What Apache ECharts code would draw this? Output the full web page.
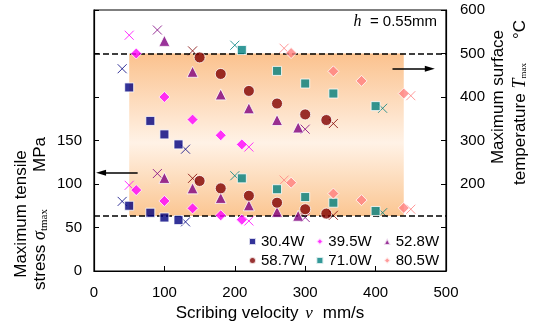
<!DOCTYPE html>
<html><head><meta charset="utf-8">
<script src="https://cdn.jsdelivr.net/npm/echarts@6/dist/echarts.min.js"></script>
<style>html,body{margin:0;padding:0;background:#fff}#c{width:534px;height:329px}</style>
</head><body><div id="c"></div>
<script>
// ---- data ----
const powers = ['30.4W','39.5W','52.8W','58.7W','71.0W','80.5W'];
const leftTickLabels = [0, 50, 100, 150];
const rightTickLabels = [200, 300, 400, 500, 600];

// temperature (right axis)  [velocity, T]
const temp30 = [[50,422],[80,345],[100,314],[120,291]];
const temp39 = [[60,500],[100,400],[140,348],[180,312],[210,291]];
const temp52 = [[100,529],[140,458],[180,406],[220,374],[260,347],[290,330]];
const temp58 = [[150,491],[180,453],[220,414],[260,385],[300,360],[330,347]];
const temp71 = [[210,508],[260,460],[300,431],[340,408],[400,379]];
const temp80 = [[280,501],[340,459],[380,437],[440,408]];
// crossed points (temperature)
const tempX30 = [[40,465],[130,280]];
const tempX39 = [[50,542],[220,285]];
const tempX52 = [[90,554],[300,326]];
const tempX58 = [[140,506],[340,339]];
const tempX71 = [[200,519],[410,374]];
const tempX80 = [[270,512],[450,403]];

// stress (left axis)  [velocity, sigma]
const stress30 = [[50,75],[80,67],[100,61.5],[120,58.5]];
const stress39 = [[60,93],[100,80.5],[140,72],[180,64],[210,59]];
const stress52 = [[100,107],[140,95],[180,84],[220,75.5],[260,68],[290,63.5]];
const stress58 = [[150,103.5],[180,95],[220,86.5],[260,78.5],[300,71],[330,66]];
const stress71 = [[210,106.5],[260,94],[300,85],[340,78.5],[400,69]];
const stress80 = [[280,101.5],[340,89],[380,81.5],[440,72.5]];
// crossed points (stress)
const stressX30 = [[40,80],[130,56.5]];
const stressX39 = [[50,98.5],[220,57.5]];
const stressX52 = [[90,112],[300,61.5]];
const stressX58 = [[140,106.5],[340,64]];
const stressX71 = [[200,109.5],[410,67]];
const stressX80 = [[270,104.5],[450,71]];

// window limits
const sigmaLow = 63.3;      // MPa (lower dashed line)
const tempHigh = 500;       // °C  (upper dashed line)
const vLow = 50, vHigh = 440;
// arrows
const leftArrow = {y: 113, from: 62, to: 10};
const rightArrow = {y: 465, from: 424, to: 477};

// ---- chart ----
const colors = ['#000080','#ff00ff','#800080','#800000','#008080','#ff8080'];
const symbols = ['rect','diamond','triangle','circle','rect','diamond'];
const sizes = [9,11,11,11,9,11];
const temps = [temp30,temp39,temp52,temp58,temp71,temp80];
const tempsX = [tempX30,tempX39,tempX52,tempX58,tempX71,tempX80];
const stresses = [stress30,stress39,stress52,stress58,stress71,stress80];
const stressesX = [stressX30,stressX39,stressX52,stressX58,stressX71,stressX80];
const cross = 'path://M0,0L10,10M10,0L0,10';
const FONT = 'Liberation Sans, Arial, sans-serif';
const SERIF = 'Liberation Serif, Times New Roman, serif';

const series = [];
// shading + dashed lines + arrows helper
series.push({
  type: 'scatter', name: '_area', yAxisIndex: 0, data: [], z: 1, silent: true,
  markArea: {
    silent: true,
    itemStyle: {
      color: {type:'linear', x:0, y:0, x2:0, y2:1, colorStops:[
        {offset:0, color:'#fbc28e'},{offset:0.55, color:'#fff2e6'},{offset:1, color:'#fbc692'}]}
    },
    data: [[{xAxis: vLow, yAxis: sigmaLow}, {xAxis: vHigh, yAxis: tempHigh/2}]]
  }
});
series.push({
  type: 'scatter', name: '_lines', yAxisIndex: 0, data: [], z: 2, silent: true,
  markLine: {
    silent: true, symbol: 'none', label: {show: false},
    lineStyle: {color:'#000', type:[6,3], width:1.5},
    data: [
      {yAxis: sigmaLow},
      {yAxis: tempHigh/2},
      [{coord:[leftArrow.from, leftArrow.y], symbol:'none', lineStyle:{type:'solid', width:1.5}},
       {coord:[leftArrow.to, leftArrow.y], symbol:'triangle', symbolSize:[6,10]}],
      [{coord:[rightArrow.from, rightArrow.y/2], symbol:'none', lineStyle:{type:'solid', width:1.5}},
       {coord:[rightArrow.to, rightArrow.y/2], symbol:'triangle', symbolSize:[6,10]}]
    ]
  }
});
powers.forEach((p, i) => {
  const base = {type:'scatter', name: p, symbol: symbols[i], symbolSize: sizes[i], z: 5,
    itemStyle: {color: colors[i], borderColor:'#fff', borderWidth: 1}};
  series.push(Object.assign({}, base, {yAxisIndex: 1, data: temps[i]}));
  series.push(Object.assign({}, base, {yAxisIndex: 0, data: stresses[i]}));
  const xb = {type:'scatter', name: p + ' ×', symbol: cross, symbolSize: 9, z: 4,
    itemStyle: {color: 'rgba(0,0,0,0)', borderColor: colors[i], borderWidth: 1}};
  series.push(Object.assign({}, xb, {yAxisIndex: 1, data: tempsX[i]}));
  series.push(Object.assign({}, xb, {yAxisIndex: 0, data: stressesX[i]}));
});

const legendBase = {orient:'horizontal', left: 243, itemWidth: 7, itemHeight: 7, itemGap: 11,
  textStyle: {fontFamily: FONT, fontSize: 15, color:'#000'}, selectedMode: false};

const chart = echarts.init(document.getElementById('c'), null, {renderer:'canvas'});
chart.setOption({
  animation: false,
  backgroundColor: '#fff',
  textStyle: {fontFamily: FONT},
  grid: {left: 94, right: 88, top: 10, bottom: 58, show: true, borderColor:'#000', borderWidth: 1.2},
  legend: [
    Object.assign({}, legendBase, {top: 229, data: powers.slice(0,3)}),
    Object.assign({}, legendBase, {top: 248, data: powers.slice(3)})
  ],
  xAxis: {
    type:'value', min:0, max:500, interval:100,
    axisLine: {show:true, lineStyle:{color:'#000', width:1.2}},
    axisTick: {show:true, inside:true, length:5, lineStyle:{color:'#000'}},
    splitLine: {show:false},
    axisLabel: {color:'#000', fontSize:15, fontFamily: FONT, margin: 14},
    name: '{n|Scribing velocity}  {v|v}   {n|mm/s}',
    nameLocation: 'middle', nameGap: 28,
    nameTextStyle: {rich: {
      n: {fontFamily: FONT, fontSize: 17, color:'#000'},
      v: {fontFamily: SERIF, fontStyle:'italic', fontSize: 17, color:'#000'}
    }}
  },
  yAxis: [
    {type:'value', min:0, max:300, interval:50, position:'left',
     axisLine: {show:true, lineStyle:{color:'#000', width:1.2}},
     axisTick: {show:true, inside:true, length:5, lineStyle:{color:'#000'}},
     splitLine: {show:false},
     axisLabel: {color:'#000', fontSize:15, fontFamily: FONT, margin: 12,
       formatter: v => leftTickLabels.includes(v) ? String(v) : ''}},
    {type:'value', min:0, max:600, interval:100, position:'right',
     axisLine: {show:true, lineStyle:{color:'#000', width:1.2}},
     axisTick: {show:true, inside:true, length:5, lineStyle:{color:'#000'}},
     splitLine: {show:false},
     axisLabel: {color:'#000', fontSize:15, fontFamily: FONT, margin: 14,
       formatter: v => rightTickLabels.includes(v) ? String(v) : ''}}
  ],
  graphic: [
    {type:'text', x: 437, y: 22, style: {
      text: '{i|h}  = 0.55mm', textAlign:'right', textVerticalAlign:'middle',
      font: '15px ' + FONT, fill:'#000',
      rich: {i: {fontFamily: SERIF, fontStyle:'italic', fontSize: 16, fill:'#000'}}}},
    // left axis title
    {type:'text', x: 21, y: 214, rotation: Math.PI/2, style: {
      text: 'Maximum tensile', textAlign:'center', textVerticalAlign:'middle',
      font: '17px ' + FONT, fill:'#000'}},
    {type:'text', x: 40, y: 290, rotation: Math.PI/2, style: {
      text: 'stress {s|σ}{sub|tmax}', textAlign:'left', textVerticalAlign:'middle',
      font: '17px ' + FONT, fill:'#000',
      rich: {s: {fontFamily: SERIF, fontStyle:'italic', fontSize: 18, fill:'#000'},
             sub: {fontFamily: SERIF, fontSize: 11, fill:'#000', padding:[8,0,0,0]}}}},
    {type:'text', x: 40, y: 137, rotation: Math.PI/2, style: {
      text: 'MPa', textAlign:'right', textVerticalAlign:'middle',
      font: '17px ' + FONT, fill:'#000'}},
    // right axis title
    {type:'text', x: 498, y: 97, rotation: Math.PI/2, style: {
      text: 'Maximum surface', textAlign:'center', textVerticalAlign:'middle',
      font: '17px ' + FONT, fill:'#000'}},
    {type:'text', x: 520, y: 185, rotation: Math.PI/2, style: {
      text: 'temperature {t|T}{sub|max}', textAlign:'left', textVerticalAlign:'middle',
      font: '17px ' + FONT, fill:'#000',
      rich: {t: {fontFamily: SERIF, fontStyle:'italic', fontSize: 18, fill:'#000'},
             sub: {fontFamily: SERIF, fontSize: 9, fill:'#000', padding:[8,0,0,0]}}}},
    {type:'text', x: 520, y: 20, rotation: Math.PI/2, style: {
      text: '°C', textAlign:'right', textVerticalAlign:'middle',
      font: '17px ' + FONT, fill:'#000'}}
  ],
  series: series
});
</script></body></html>
